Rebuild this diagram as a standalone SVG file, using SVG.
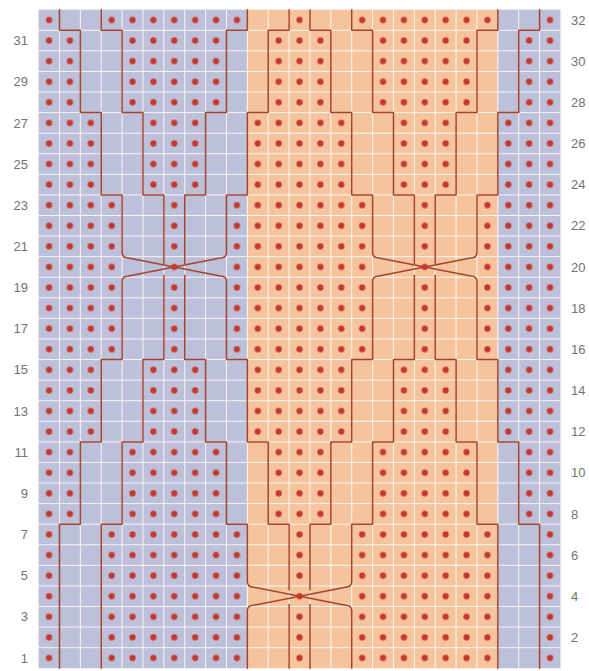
<svg xmlns="http://www.w3.org/2000/svg" width="589" height="671" viewBox="0 0 589 671">
<style>
.lbl{font-family:"Liberation Sans",Arial,sans-serif;font-size:13px;fill:#727272}
.l{text-anchor:end}
.r{text-anchor:start}
.cab{fill:none;stroke:#a5442e;stroke-width:1.5;vector-effect:non-scaling-stroke;stroke-linejoin:round;stroke-linecap:round}
.grid{fill:none;stroke:#fff;stroke-opacity:.85;stroke-width:1;vector-effect:non-scaling-stroke}
</style>
<defs>
<pattern id="dotp" x="0" y="0" width="1" height="1" patternUnits="userSpaceOnUse"><circle cx=".5" cy=".5" r=".15" fill="#c8372c"/></pattern>
<mask id="knit" maskUnits="userSpaceOnUse" x="0" y="0" width="25" height="32">
<rect width="25" height="32" fill="#fff"/>
<path fill="#000" d="M1 0h2v1h-2zM2 1h2v4h-2zM3 5h2v4h-2zM4 9h2v4h-2zM7 13h2v4h-2zM8 17h2v4h-2zM9 21h2v4h-2zM10 25h2v4h-2zM13 29h2v3h-2zM10 0h2v1h-2zM9 1h2v4h-2zM8 5h2v4h-2zM7 9h2v4h-2zM4 13h2v4h-2zM3 17h2v4h-2zM2 21h2v4h-2zM1 25h2v7h-2zM13 0h2v1h-2zM14 1h2v4h-2zM15 5h2v4h-2zM16 9h2v4h-2zM19 13h2v4h-2zM20 17h2v4h-2zM21 21h2v4h-2zM22 25h2v7h-2zM22 0h2v1h-2zM21 1h2v4h-2zM20 5h2v4h-2zM19 9h2v4h-2zM16 13h2v4h-2zM15 17h2v4h-2zM14 21h2v4h-2zM13 25h2v4h-2zM10 29h2v3h-2z"/>
</mask>
</defs>
<rect width="589" height="671" fill="#fff"/>
<g id="chart" transform="translate(38.6 9.7) scale(20.875 20.58)">
<g id="panels">
<rect x="0" y="0" width="10" height="32" fill="#bcc0d8"/>
<rect x="10" y="0" width="12" height="32" fill="#f5c49c"/>
<rect x="22" y="0" width="3" height="32" fill="#bcc0d8"/>
</g>
<path id="grid" class="grid" d="M1 0V32M2 0V32M3 0V32M4 0V32M5 0V32M6 0V32M7 0V32M8 0V32M9 0V32M10 0V32M11 0V32M12 0V32M13 0V32M14 0V32M15 0V32M16 0V32M17 0V32M18 0V32M19 0V32M20 0V32M21 0V32M22 0V32M23 0V32M24 0V32M0 1H25M0 2H25M0 3H25M0 4H25M0 5H25M0 6H25M0 7H25M0 8H25M0 9H25M0 10H25M0 11H25M0 12H25M0 13H25M0 14H25M0 15H25M0 16H25M0 17H25M0 18H25M0 19H25M0 20H25M0 21H25M0 22H25M0 23H25M0 24H25M0 25H25M0 26H25M0 27H25M0 28H25M0 29H25M0 30H25M0 31H25"/>
<g id="cables">
<path class="cab" d="M1 0V1H2V5H3V9H4V11.8Q4 12.05 4.3 12.06L8.7 12.94Q9 12.95 9 13.2V17H10V21H11V25H12V28.2"/>
<path class="cab" d="M3 0V1H4V5H5V9H6V12.35"/>
<path class="cab" d="M10 0V1H9V5H8V9H7V12.35"/>
<path class="cab" d="M12 0V1H11V5H10V9H9V11.8Q9 12.05 8.7 12.06L4.3 12.94Q4 12.95 4 13.2V17H3V21H2V25H1V32"/>
<path class="cab" d="M6 12.9V17H5V21H4V25H3V32"/>
<path class="cab" d="M7 12.9V17H8V21H9V25H10V27.8Q10 28.05 10.3 28.06L14.7 28.94Q15 28.95 15 29.2V32"/>
<path class="cab" d="M13 28.9V32"/>
<path class="cab" d="M13 0V1H14V5H15V9H16V11.8Q16 12.05 16.3 12.06L20.7 12.94Q21 12.95 21 13.2V17H22V21H23V25H24V32"/>
<path class="cab" d="M15 0V1H16V5H17V9H18V12.35"/>
<path class="cab" d="M19 12.9V17H20V21H21V25H22V32"/>
<path class="cab" d="M22 0V1H21V5H20V9H19V12.35"/>
<path class="cab" d="M24 0V1H23V5H22V9H21V11.8Q21 12.05 20.7 12.06L16.3 12.94Q16 12.95 16 13.2V17H15V21H14V25H13V28.2"/>
<path class="cab" d="M18 12.9V17H17V21H16V25H15V27.8Q15 28.05 14.7 28.06L10.3 28.94Q10 28.95 10 29.2V32"/>
<path class="cab" d="M12 28.9V32"/>
</g>
<rect id="purl-stitches" x="0" y="0" width="25" height="32" fill="url(#dotp)" mask="url(#knit)"/>
</g>
<g id="row-numbers">
<text class="lbl l" x="28" y="45.2">31</text>
<text class="lbl l" x="28" y="86.3">29</text>
<text class="lbl l" x="28" y="127.5">27</text>
<text class="lbl l" x="28" y="168.6">25</text>
<text class="lbl l" x="28" y="209.8">23</text>
<text class="lbl l" x="28" y="251">21</text>
<text class="lbl l" x="28" y="292.1">19</text>
<text class="lbl l" x="28" y="333.3">17</text>
<text class="lbl l" x="28" y="374.4">15</text>
<text class="lbl l" x="28" y="415.6">13</text>
<text class="lbl l" x="28" y="456.8">11</text>
<text class="lbl l" x="28" y="497.9">9</text>
<text class="lbl l" x="28" y="539.1">7</text>
<text class="lbl l" x="28" y="580.2">5</text>
<text class="lbl l" x="28" y="621.4">3</text>
<text class="lbl l" x="28" y="662.6">1</text>
<text class="lbl r" x="571" y="24.6">32</text>
<text class="lbl r" x="571" y="65.8">30</text>
<text class="lbl r" x="571" y="106.9">28</text>
<text class="lbl r" x="571" y="148.1">26</text>
<text class="lbl r" x="571" y="189.2">24</text>
<text class="lbl r" x="571" y="230.4">22</text>
<text class="lbl r" x="571" y="271.6">20</text>
<text class="lbl r" x="571" y="312.7">18</text>
<text class="lbl r" x="571" y="353.9">16</text>
<text class="lbl r" x="571" y="395">14</text>
<text class="lbl r" x="571" y="436.2">12</text>
<text class="lbl r" x="571" y="477.4">10</text>
<text class="lbl r" x="571" y="518.5">8</text>
<text class="lbl r" x="571" y="559.7">6</text>
<text class="lbl r" x="571" y="600.8">4</text>
<text class="lbl r" x="571" y="642">2</text>
</g>
</svg>
